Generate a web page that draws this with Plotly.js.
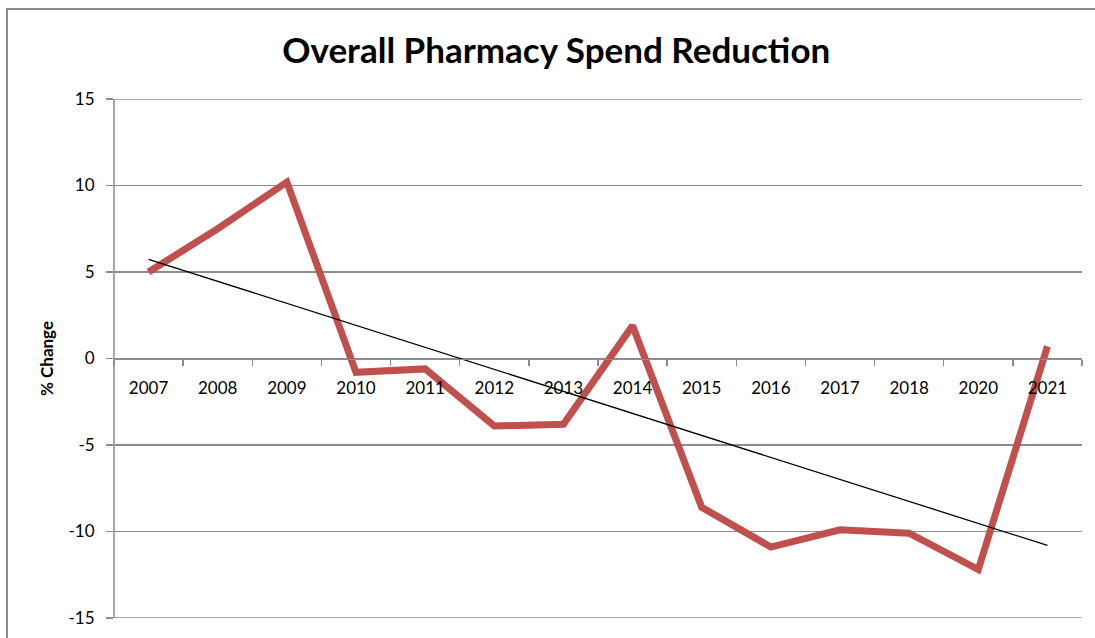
<!DOCTYPE html>
<html>
<head>
<meta charset="utf-8">
<script src="https://cdn.plot.ly/plotly-3.0.1.min.js"></script>
<style>
  html, body { margin: 0; padding: 0; background: #fff; }
  #chart { width: 1095px; height: 638px; }
</style>
</head>
<body>
<div id="chart"></div>
<script>
// Data
const years = ["2007", "2008", "2009", "2010", "2011", "2012", "2013", "2014", "2015", "2016", "2017", "2018", "2020", "2021"];
const pctChange = [5.0, 7.5, 10.2, -0.8, -0.6, -3.9, -3.8, 1.9, -8.6, -10.9, -9.9, -10.1, -12.2, 0.7];
const yTicks = [-15, -10, -5, 0, 5, 10, 15];
const yTickText = ["-15", "-10", "-5", "0", "5", "10", "15"];
const yMin = -15, yMax = 15;

// Linear trendline (least squares over category index), as Excel draws it
const n = pctChange.length;
const idx = pctChange.map((_, i) => i);
const mx = idx.reduce((a, b) => a + b, 0) / n;
const my = pctChange.reduce((a, b) => a + b, 0) / n;
let sxy = 0, sxx = 0;
for (let i = 0; i < n; i++) { sxy += (i - mx) * (pctChange[i] - my); sxx += (i - mx) * (i - mx); }
const slope = sxy / sxx;
const intercept = my - slope * mx;
const trend = idx.map(i => intercept + slope * i);

const FONT = "Lato, 'Open Sans', sans-serif";
const GRID = "#8c8c8c";

const traces = [
  {
    x: years, y: pctChange, type: "scatter", mode: "lines",
    line: { color: "#C0504D", width: 7, shape: "linear" },
    hoverinfo: "x+y", showlegend: false
  },
  {
    x: years, y: trend, type: "scatter", mode: "lines",
    line: { color: "#000000", width: 1.3 },
    hoverinfo: "skip", showlegend: false
  }
];

const layout = {
  width: 1095, height: 638,
  margin: { l: 114, r: 13, t: 99, b: 20 },
  paper_bgcolor: "#ffffff", plot_bgcolor: "#ffffff",
  font: { family: FONT, color: "#000", size: 17 },
  title: {
    text: "<b>Overall Pharmacy Spend Reduction</b>",
    font: { family: FONT, size: 35, color: "#000" },
    xref: "container", x: 0.508, xanchor: "center",
    yref: "container", y: 0.92, yanchor: "middle"
  },
  xaxis: {
    type: "category",
    anchor: "free", position: 0.5,
    showline: true, linecolor: GRID, linewidth: 1.5,
    showgrid: false, zeroline: false,
    ticks: "outside", tickson: "boundaries", ticklen: 6, tickcolor: GRID, tickwidth: 1.5,
    tickfont: { family: FONT, size: 17, color: "#000" },
    ticklabelstandoff: 14,
    range: [-0.5, 13.5], fixedrange: true
  },
  yaxis: {
    range: [yMin, yMax], tickvals: yTicks, ticktext: yTickText,
    showline: false,
    showgrid: true, gridcolor: GRID, gridwidth: 1.5,
    zeroline: false,
    ticks: "outside", ticklen: 7, tickcolor: GRID, tickwidth: 1.5,
    tickfont: { family: FONT, size: 17, color: "#000" },
    ticklabelstandoff: 8,
    title: { text: "<b>% Change</b>", font: { family: FONT, size: 17, color: "#000" }, standoff: 10 },
    fixedrange: true
  },
  shapes: [
    // outer chart border
    {
      type: "rect", xref: "paper", yref: "paper", layer: "below",
      x0: (7 - 114) / 968, x1: 1.05, y0: -0.2, y1: (618 - 9) / 519,
      line: { color: GRID, width: 2 }, fillcolor: "rgba(0,0,0,0)"
    },
    // vertical value-axis line
    {
      type: "line", xref: "paper", yref: "y", layer: "below",
      x0: 0, x1: 0, y0: yMin, y1: yMax,
      line: { color: GRID, width: 1.5 }
    },
    // gridlines at the ends of the range (Plotly skips grid lines on the plot edges)
    {
      type: "line", xref: "paper", yref: "y", layer: "below",
      x0: 0, x1: 1, y0: yMax, y1: yMax,
      line: { color: GRID, width: 1.5 }
    },
    {
      type: "line", xref: "paper", yref: "y", layer: "below",
      x0: 0, x1: 1, y0: yMin, y1: yMin,
      line: { color: GRID, width: 1.5 }
    }
  ]
};

Plotly.newPlot("chart", traces, layout, { displayModeBar: false, staticPlot: true });
</script>
</body>
</html>
